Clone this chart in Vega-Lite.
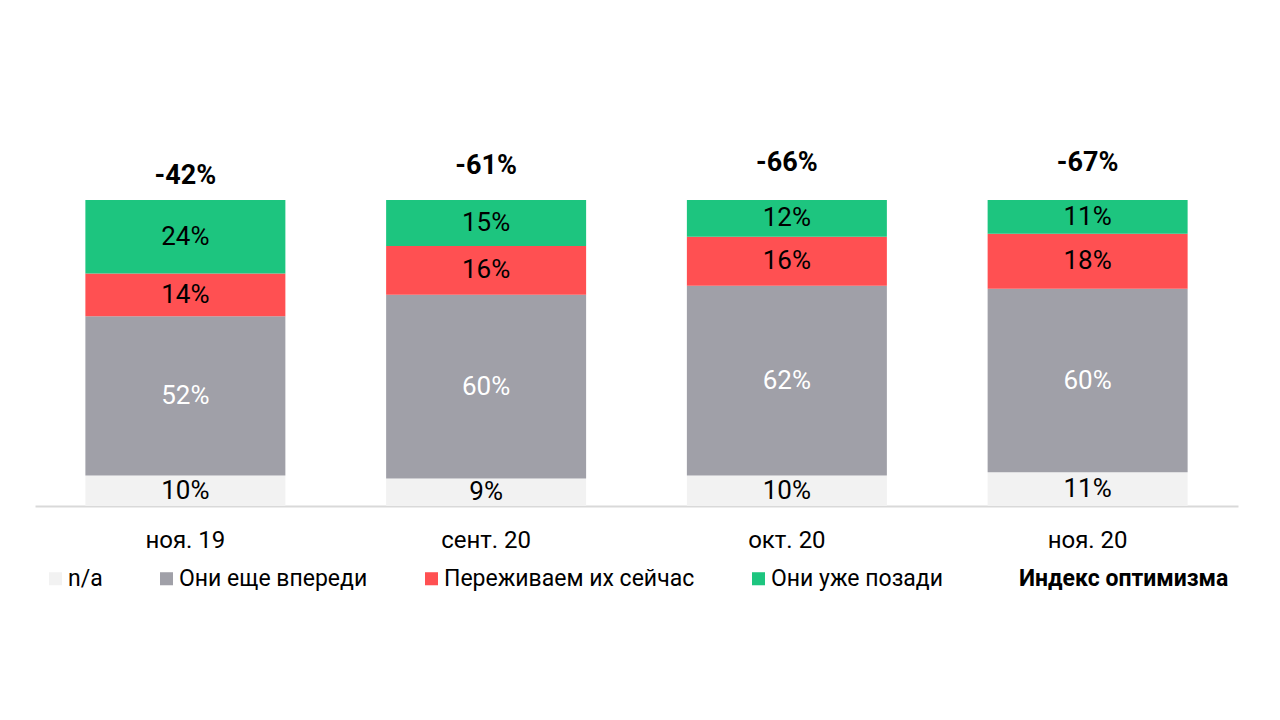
{
  "$schema": "https://vega.github.io/schema/vega-lite/v6.json",
  "width": 1203,
  "height": 306,
  "autosize": "none",
  "padding": {"left": 35, "top": 200, "right": 42, "bottom": 214},
  "background": "white",
  "datasets": {
    "shares": [
      {"month": "ноя. 19", "category": "n/a", "value": 10},
      {"month": "ноя. 19", "category": "Они еще впереди", "value": 52},
      {"month": "ноя. 19", "category": "Переживаем их сейчас", "value": 14},
      {"month": "ноя. 19", "category": "Они уже позади", "value": 24},
      {"month": "сент. 20", "category": "n/a", "value": 9},
      {"month": "сент. 20", "category": "Они еще впереди", "value": 60},
      {"month": "сент. 20", "category": "Переживаем их сейчас", "value": 16},
      {"month": "сент. 20", "category": "Они уже позади", "value": 15},
      {"month": "окт. 20", "category": "n/a", "value": 10},
      {"month": "окт. 20", "category": "Они еще впереди", "value": 62},
      {"month": "окт. 20", "category": "Переживаем их сейчас", "value": 16},
      {"month": "окт. 20", "category": "Они уже позади", "value": 12},
      {"month": "ноя. 20", "category": "n/a", "value": 11},
      {"month": "ноя. 20", "category": "Они еще впереди", "value": 60},
      {"month": "ноя. 20", "category": "Переживаем их сейчас", "value": 18},
      {"month": "ноя. 20", "category": "Они уже позади", "value": 11}
    ],
    "index": [
      {"month": "ноя. 19", "index": -42},
      {"month": "сент. 20", "index": -61},
      {"month": "окт. 20", "index": -66},
      {"month": "ноя. 20", "index": -67}
    ]
  },
  "encoding": {
    "x": {
      "field": "month",
      "type": "nominal",
      "sort": null,
      "scale": {"paddingInner": 0.335, "paddingOuter": 0.1675},
      "axis": {
        "title": null,
        "ticks": false,
        "grid": false,
        "domainColor": "#D9D9D9",
        "domainWidth": 2,
        "labelFontSize": 24,
        "labelFont": "Roboto",
        "labelColor": "#000000",
        "labelPadding": 22,
        "labelAngle": 0
      }
    }
  },
  "layer": [
    {
      "data": {"name": "shares"},
      "transform": [
        {"calculate": "indexof(['n/a', 'Они еще впереди', 'Переживаем их сейчас', 'Они уже позади'], datum.category)", "as": "k"},
        {"stack": "value", "groupby": ["month"], "sort": [{"field": "k", "order": "ascending"}], "as": ["v0", "v1"]},
        {"calculate": "(datum.v0 + datum.v1) / 2", "as": "mid"},
        {"calculate": "datum.value + '%'", "as": "label"}
      ],
      "layer": [
        {
          "mark": {"type": "bar"},
          "encoding": {
            "y": {"field": "v1", "type": "quantitative", "scale": {"domain": [0, 100], "nice": false}, "axis": null},
            "y2": {"field": "v0"},
            "color": {
              "field": "category",
              "type": "nominal",
              "scale": {
                "domain": ["n/a", "Они еще впереди", "Переживаем их сейчас", "Они уже позади", "Индекс оптимизма"],
                "range": ["#F2F2F2", "#A0A0A8", "#FF5052", "#1DC57F", "transparent"]
              },
              "legend": {
                "orient": "none",
                "legendX": 9,
                "legendY": 367,
                "direction": "horizontal",
                "title": null,
                "symbolType": "square",
                "symbolSize": 170,
                "symbolStrokeWidth": 0,
                "labelFont": "Roboto",
                "labelFontSize": 23,
                "labelColor": "#000000",
                "labelOffset": 1,
                "labelLimit": 400,
                "columnPadding": 52,
                "encode": {
                  "labels": {"update": {"fontWeight": {"signal": "datum.label === 'Индекс оптимизма' ? 'bold' : 'normal'"}}}
                }
              }
            }
          }
        },
        {
          "mark": {"type": "text", "font": "Roboto", "fontSize": 26, "baseline": "middle", "align": "center"},
          "encoding": {
            "y": {"field": "mid", "type": "quantitative", "scale": {"domain": [0, 100], "nice": false}, "axis": null},
            "text": {"field": "label"},
            "color": {
              "condition": {"test": "datum.category === 'Они еще впереди'", "value": "#FFFFFF"},
              "value": "#000000"
            }
          }
        }
      ]
    },
    {
      "data": {"name": "index"},
      "transform": [{"calculate": "datum.index + '%'", "as": "label"}],
      "mark": {"type": "text", "font": "Roboto", "fontSize": 27, "fontWeight": "bold", "baseline": "middle", "align": "center", "color": "#000000"},
      "encoding": {
        "y": {"field": "index", "type": "quantitative", "scale": {"domain": [606, 6], "nice": false, "zero": false}, "axis": null},
        "text": {"field": "label"}
      }
    }
  ],
  "resolve": {"scale": {"y": "independent"}},
  "config": {"view": {"stroke": null}, "font": "Roboto"}
}
